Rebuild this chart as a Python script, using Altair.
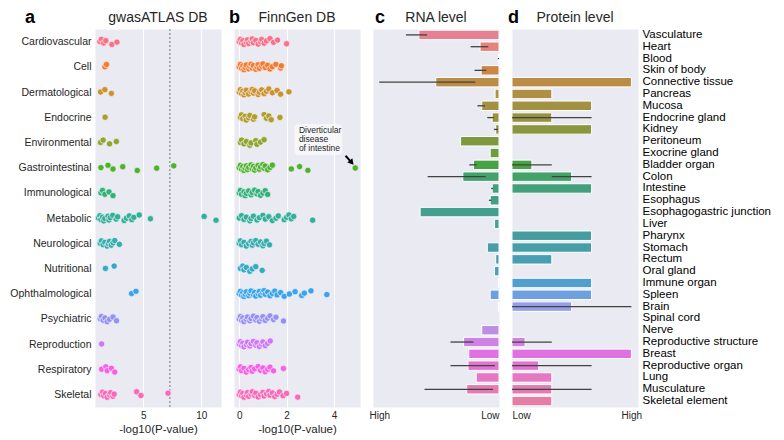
import math
import colorsys
import pandas as pd
import altair as alt

# ---------------- data ----------------
categories = ["Cardiovascular", "Cell", "Dermatological", "Endocrine", "Environmental",
              "Gastrointestinal", "Immunological", "Metabolic", "Neurological", "Nutritional",
              "Ophthalmological", "Psychiatric", "Reproduction", "Respiratory", "Skeletal"]

gwas_values = [
    [1.27, 1.4, 1.6, 1.78, 2.3, 2.74],
    [1.7, 1.84],
    [1.33, 1.7, 2.26],
    [1.72],
    [1.33, 1.55, 2.1, 2.69],
    [1.36, 1.97, 2.4, 3.24, 4.49, 6.16, 7.63],
    [1.36, 1.5, 1.7, 2.06, 2.4],
    [1.15, 1.27, 1.35, 1.5, 1.6, 1.69, 1.97, 2.05, 2.17, 2.38, 2.67, 2.8, 3.36, 3.56, 3.8, 4.02, 4.2, 4.66, 5.62, 10.25, 11.27],
    [1.3, 1.4, 1.55, 1.7, 1.9, 2.0, 2.1, 2.25, 2.4, 2.55, 2.95],
    [1.75, 2.5],
    [4.0, 4.38],
    [1.3, 1.4, 1.55, 1.7, 1.9, 2.1, 2.4, 2.7],
    [1.42],
    [1.42, 1.78, 1.9, 2.27, 2.55],
    [1.35, 1.5, 1.6, 1.75, 1.9, 2.1, 2.2, 2.4, 2.5, 4.43, 4.8, 7.14],
]

finngen_values = [
    [0.0, 0.05, 0.1, 0.15, 0.2, 0.3, 0.35, 0.4, 0.5, 0.55, 0.6, 0.7, 0.8, 0.9, 0.95, 1.05, 1.15, 1.3, 1.45, 1.62, 2.0],
    [0.0, 0.05, 0.1, 0.15, 0.2, 0.25, 0.3, 0.4, 0.45, 0.5, 0.55, 0.6, 0.7, 0.75, 0.8, 0.85, 0.95, 1.0, 1.1, 1.2, 1.3, 1.4, 1.55, 1.75, 1.78],
    [0.0, 0.05, 0.1, 0.15, 0.2, 0.25, 0.3, 0.4, 0.5, 0.55, 0.6, 0.65, 0.8, 0.85, 0.95, 1.05, 1.15, 1.25, 1.4, 1.6, 1.75, 2.1],
    [0.05, 0.1, 0.15, 0.25, 0.3, 0.4, 0.45, 0.6, 0.65, 1.05, 1.15, 1.25, 1.35, 1.72],
    [0.05, 0.1, 0.2, 0.3, 0.45, 0.5, 0.7, 0.75, 0.9, 1.05],
    [0.0, 0.05, 0.1, 0.15, 0.2, 0.25, 0.3, 0.35, 0.4, 0.5, 0.55, 0.6, 0.65, 0.7, 0.8, 0.85, 0.9, 1.0, 1.05, 1.1, 1.2, 1.3, 1.4, 2.2, 2.55, 2.9, 4.9],
    [0.0, 0.05, 0.1, 0.2, 0.25, 0.3, 0.4, 0.5, 0.55, 0.65, 0.75, 0.8, 0.9, 1.0, 1.1, 1.2],
    [0.0, 0.1, 0.2, 0.3, 0.45, 0.5, 0.6, 0.75, 0.85, 1.0, 1.1, 1.25, 1.4, 1.55, 1.65, 1.9, 2.0, 2.1, 2.2, 2.3, 3.1],
    [0.0, 0.05, 0.1, 0.2, 0.3, 0.4, 0.5, 0.55, 0.6, 0.7, 0.8, 0.9, 1.0, 1.05, 1.15, 1.28],
    [0.05, 0.15, 0.2, 0.3, 0.45, 0.55, 0.7, 0.97],
    [0.0, 0.05, 0.1, 0.15, 0.2, 0.25, 0.3, 0.4, 0.45, 0.5, 0.6, 0.65, 0.7, 0.8, 0.85, 0.9, 1.0, 1.05, 1.1, 1.2, 1.3, 1.4, 1.5, 1.6, 1.75, 1.9, 2.12, 2.36, 2.64, 2.75, 3.03, 3.7],
    [0.0, 0.05, 0.1, 0.15, 0.2, 0.3, 0.35, 0.45, 0.5, 0.6, 0.7, 0.75, 0.85, 0.95, 1.0, 1.1, 1.2, 1.3, 1.45, 1.55, 1.87],
    [0.0, 0.05, 0.1, 0.15, 0.2, 0.3, 0.35, 0.45, 0.5, 0.6, 0.7, 0.75, 0.85, 0.95, 1.0, 1.1, 1.2, 1.31],
    [0.0, 0.05, 0.1, 0.2, 0.3, 0.4, 0.5, 0.55, 0.65, 0.8, 0.9, 1.0, 1.1, 1.2, 1.3, 1.45, 1.87],
    [0.0, 0.05, 0.1, 0.15, 0.2, 0.3, 0.35, 0.4, 0.5, 0.55, 0.65, 0.7, 0.8, 0.9, 1.0, 1.05, 1.15, 1.25, 1.3, 1.4, 1.5, 1.6, 1.7, 1.85, 2.0, 2.47],
]

significance_line = 7.3

tissues = ["Vasculature", "Heart", "Blood", "Skin of body", "Connective tissue", "Pancreas",
           "Mucosa", "Endocrine gland", "Kidney", "Peritoneum", "Exocrine gland", "Bladder organ",
           "Colon", "Intestine", "Esophagus", "Esophagogastric junction", "Liver", "Pharynx",
           "Stomach", "Rectum", "Oral gland", "Immune organ", "Spleen", "Brain", "Spinal cord",
           "Nerve", "Reproductive structure", "Breast", "Reproductive organ", "Lung",
           "Musculature", "Skeletal element"]

rna_mean = [63.6, 15.0, 0.4, 14.2, 50.2, 3.1, 13.7, 5.4, 2.6, 30.5, 7.0, 20.2, 28.7, 5.4, 7.0, 62.6,
            3.5, None, 9.3, 2.6, 3.6, 0.4, 7.0, 0.4, None, 13.7, 28.1, 24.0, 24.6, 18.1, 25.6, None]
rna_lo = [57.1, 8.5, 0.0, 10.1, 18.8, None, 11.1, 4.1, 0.8, None, None, 17.8, 10.6, 4.7, 6.2, None,
          None, None, None, None, None, None, None, None, None, None, 20.2, None, 3.3, None, 4.7, None]
rna_hi = [73.9, 22.5, 0.9, 19.4, 95.1, None, 17.1, 9.3, 4.1, None, None, 23.5, 56.6, 6.2, 8.0, None,
          None, None, None, None, None, None, None, None, None, None, 38.5, None, 38.5, None, 59.1, None]

prot_mean = [None, None, None, None, 3.0, 1.0, 2.0, 1.0, 2.0, None, None, 0.5, 1.5, 2.0, None, None,
             None, 2.0, 2.0, 1.0, None, 2.0, 2.0, 1.5, None, None, 0.33, 3.0, 0.67, 1.0, 1.0, 1.0]
prot_lo = [None, None, None, None, None, None, None, 0.0, None, None, None, 0.0, 1.0, None, None, None,
           None, None, None, None, None, None, None, 0.0, None, None, 0.0, None, 0.0, None, 0.0, None]
prot_hi = [None, None, None, None, None, None, None, 2.0, None, None, None, 1.0, 2.0, None, None, None,
           None, None, None, None, None, None, None, 3.0, None, None, 1.0, None, 2.0, None, 2.0, None]

annotation_text = "Diverticular\ndisease\nof intestine"

# ---------------- palette (seaborn husl) ----------------
_M = [[3.2406, -1.5372, -0.4986], [-0.9689, 1.8758, 0.0415], [0.0557, -0.2040, 1.0570]]


def _max_chroma(L, H):
    hrad = math.radians(H)
    sinH, cosH = math.sin(hrad), math.cos(hrad)
    sub1 = ((L + 16) ** 3) / 1560896.0
    sub2 = sub1 if sub1 > 0.008856 else (L / 903.3)
    result = float("inf")
    for m1, m2, m3 in _M:
        top = (0.99915 * m1 + 1.05122 * m2 + 1.14460 * m3) * sub2
        rbottom = 0.86330 * m3 - 0.17266 * m2
        lbottom = 0.12949 * m3 - 0.38848 * m1
        bottom = (rbottom * sinH + lbottom * cosH) * sub2
        for t in (0.0, 1.0):
            C = L * (top - 1.05122 * t) / (bottom + 0.17266 * sinH * t)
            if 0.0 < C < result:
                result = C
    return result


def _husl_to_rgb(H, S, L):
    C = _max_chroma(L, H) / 100.0 * S
    hr = math.radians(H)
    U, V = math.cos(hr) * C, math.sin(hr) * C
    t = (L + 16.0) / 116.0
    Y = t ** 3 if t ** 3 > 0.008856 else (116 * t - 16) / 903.3
    varU = U / (13.0 * L) + 0.19784
    varV = V / (13.0 * L) + 0.46834
    X = -(9.0 * Y * varU) / ((varU - 4.0) * varV - varU * varV)
    Z = (9.0 * Y - 15.0 * varV * Y - varV * X) / (3.0 * varV)
    out = []
    for r in _M:
        c = r[0] * X + r[1] * Y + r[2] * Z
        c = 12.92 * c if c <= 0.0031308 else 1.055 * c ** (1 / 2.4) - 0.055
        out.append(min(max(c, 0.0), 1.0))
    return out


def husl_palette(n, desat=1.0):
    cols = []
    for i in range(n):
        h = ((i / n) + 0.01) % 1 * 359
        r, g, b = _husl_to_rgb(h, 0.9 * 99, 0.65 * 99)
        if desat != 1.0:
            hh, ll, ss = colorsys.rgb_to_hls(r, g, b)
            r, g, b = colorsys.hls_to_rgb(hh, ll, ss * desat)
        cols.append("#%02x%02x%02x" % tuple(int(round(v * 255)) for v in (r, g, b)))
    return cols


pal_cat = husl_palette(len(categories))
pal_tis = husl_palette(len(tissues), 0.75)

# ---------------- tables ----------------
JIT = 0.12


def strip_table(values):
    rows = []
    for i, (cat, vals) in enumerate(zip(categories, values)):
        for k, v in enumerate(vals):
            j = ((k * 0.618034 + 0.5) % 1.0) * 2 - 1
            rows.append({"cat": cat, "v": v, "pos": i + JIT * j})
    return pd.DataFrame(rows)


df_a = strip_table(gwas_values)
df_b = strip_table(finngen_values)

df_t = pd.DataFrame({"tissue": tissues, "rna": rna_mean, "rna_lo": rna_lo, "rna_hi": rna_hi,
                     "prot": prot_mean, "prot_lo": prot_lo, "prot_hi": prot_hi})

# ---------------- styling ----------------
W = 126
H = 378
TXT = "#262626"
BG = "#EAEAF2"
label_expr = "[" + ",".join("'%s'" % c for c in categories) + "][datum.value]"

y_scale = alt.Scale(domain=[-0.5, len(categories) - 0.5], reverse=True, nice=False, zero=False)


def headers(letter_ch, dx, name):
    lt = alt.Chart(pd.DataFrame({"t": [letter_ch]})).mark_text(
        fontSize=18, fontWeight="bold", align="left", baseline="alphabetic", color="black"
    ).encode(text="t:N", x=alt.value(dx), y=alt.value(-6))
    nm = alt.Chart(pd.DataFrame({"t": [name]})).mark_text(
        fontSize=14, align="center", baseline="alphabetic", color=TXT
    ).encode(text="t:N", x=alt.value(W / 2), y=alt.value(-7))
    return [lt, nm]


def x_axis(vals):
    return alt.Axis(values=vals, title="-log10(P-value)", grid=True, gridColor="white", gridWidth=1,
                    ticks=False, domain=False, labelFontSize=10, titleFontSize=11.5,
                    labelPadding=3, titlePadding=3, labelColor=TXT, titleColor=TXT,
                    titleFontWeight="normal")


def strip(df, xdom, xvals, show_y):
    yax = alt.Axis(values=list(range(len(categories))), labelExpr=label_expr, grid=False, ticks=False,
                   domain=False, title=None, labelFontSize=10.5, labelPadding=4, labelColor=TXT,
                   labelOverlap=False) if show_y else None
    return alt.Chart(df).mark_circle(size=40, opacity=1, stroke="white", strokeWidth=0.6).encode(
        x=alt.X("v:Q", scale=alt.Scale(domain=xdom, nice=False, zero=False), axis=x_axis(xvals)),
        y=alt.Y("pos:Q", scale=y_scale, axis=yax),
        color=alt.Color("cat:N", scale=alt.Scale(domain=categories, range=pal_cat), legend=None),
    )


# panel a
sig = alt.Chart(pd.DataFrame({"v": [significance_line]})).mark_rule(
    color="#777777", strokeDash=[2, 2], strokeWidth=1).encode(x="v:Q")
panel_a = alt.layer(
    sig, strip(df_a, [0.85, 11.7], [5, 10], True), *headers("a", -70, "gwasATLAS DB")
).properties(width=W, height=H)

# panel b with annotation
ann_box = alt.Chart(pd.DataFrame({"v": [2.33], "v2": [4.35], "pos": [3.27], "pos2": [4.5]})).mark_rect(
    fill="white", opacity=0.6, cornerRadius=4).encode(x="v:Q", x2="v2:Q", y="pos:Q", y2="pos2:Q")
ann_text = alt.Chart(pd.DataFrame({"t": [annotation_text], "v": [2.52], "pos": [3.52]})).mark_text(
    align="left", baseline="middle", fontSize=8.5, lineHeight=9, lineBreak="\n", color=TXT
).encode(x="v:Q", y="pos:Q", text="t:N")
ann_line = alt.Chart(pd.DataFrame({"v": [4.49], "v2": [4.72], "pos": [4.53], "pos2": [4.77]})).mark_rule(
    color="black", strokeWidth=2).encode(x="v:Q", x2="v2:Q", y="pos:Q", y2="pos2:Q")
ann_head = alt.Chart(pd.DataFrame({"v": [4.75], "pos": [4.8]})).mark_point(
    shape="triangle-up", filled=True, color="black", opacity=1, size=45, angle=139).encode(x="v:Q", y="pos:Q")

panel_b = alt.layer(
    strip(df_b, [-0.22, 5.1], [0, 2, 4], False), ann_box, ann_text, ann_line, ann_head,
    *headers("b", -5, "FinnGen DB")
).properties(width=W, height=H)


# panels c & d
def bar_panel(col, lo, hi, xdom, reverse, xvals, show_labels):
    y_enc_axis = alt.Axis(orient="right", ticks=False, domain=False, grid=False, title=None,
                          labelFontSize=11.5, labelPadding=4, labelColor="black",
                          labelOverlap=False) if show_labels else None
    yenc = alt.Y("tissue:N", sort=tissues,
                 scale=alt.Scale(domain=tissues, paddingInner=0.2, paddingOuter=0.1), axis=y_enc_axis)
    xax = alt.Axis(values=xvals, labelExpr="datum.value == 0 ? 'Low' : 'High'", ticks=False, domain=False,
                   grid=False, title=None, labelFontSize=10, labelPadding=3, labelColor=TXT)
    xsc = alt.Scale(domain=xdom, reverse=reverse, nice=False, zero=True)
    bars = alt.Chart(df_t).transform_filter(f"isValid(datum.{col})").mark_bar(
        stroke="white", strokeWidth=1).encode(
        y=yenc,
        x=alt.X(f"{col}:Q", scale=xsc, axis=xax),
        color=alt.Color("tissue:N", scale=alt.Scale(domain=tissues, range=pal_tis), legend=None),
    )
    errs = alt.Chart(df_t).transform_filter(f"isValid(datum.{lo})").mark_rule(
        color="#424242", strokeWidth=1.3).encode(
        y=alt.Y("tissue:N", sort=tissues), x=alt.X(f"{lo}:Q"), x2=f"{hi}:Q")
    return bars, errs


bars_c, errs_c = bar_panel("rna", "rna_lo", "rna_hi", [0, 100], True, [0, 95], False)
panel_c = alt.layer(bars_c, errs_c, *headers("c", 2, "RNA level")).properties(width=W, height=H)

bars_d, errs_d = bar_panel("prot", "prot_lo", "prot_hi", [0, 3.166], False, [0, 3], True)
panel_d = alt.layer(bars_d, errs_d, *headers("d", -4, "Protein level")).properties(width=W, height=H)

chart = alt.hconcat(panel_a, panel_b, panel_c, panel_d, spacing=13, bounds="flush").resolve_scale(
    color="independent", x="independent", y="independent"
).properties(
    padding={"left": 1, "top": 1, "right": 1, "bottom": 1}
).configure(font="Liberation Sans").configure_view(fill=BG, strokeOpacity=0)

chart.save("out.html", embed_options={"renderer": "svg", "actions": False})
